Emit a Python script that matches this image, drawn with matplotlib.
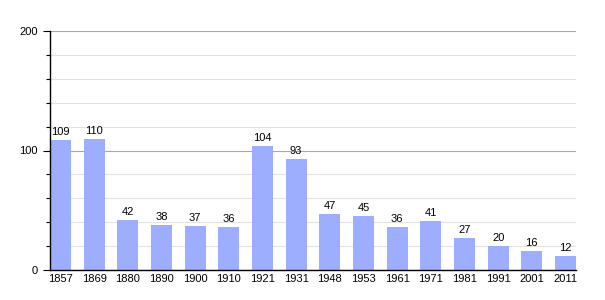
import numpy as np
import matplotlib.pyplot as plt
from matplotlib.ticker import MultipleLocator

years = ["1857", "1869", "1880", "1890", "1900", "1910", "1921", "1931",
         "1948", "1953", "1961", "1971", "1981", "1991", "2001", "2011"]
population = [109, 110, 42, 38, 37, 36, 104, 93, 47, 45, 36, 41, 27, 20, 16, 12]

plt.rcParams['font.family'] = ['Liberation Sans', 'DejaVu Sans']
plt.rcParams['font.size'] = 8

fig = plt.figure(figsize=(6.05, 3.0), dpi=100)
ax = fig.add_axes([50 / 605, 30 / 300, 526 / 605, 239 / 300])

x = np.arange(len(years))
w = 0.625
bars = ax.bar(x, population, width=w, color="#9dadff", zorder=3)

for b, v in zip(bars, population):
    ax.annotate(str(v), (b.get_x() + b.get_width() / 2, v), xytext=(0, 2),
                textcoords="offset points", ha="center", va="bottom",
                fontsize=8, zorder=4)

ax.set_xlim(-w / 2, len(years) - 1 + w / 2)
ax.set_ylim(0, 200)
ax.set_xticks(x)
ax.set_xticklabels(years)
ax.tick_params(axis="x", length=0, pad=3)

ax.yaxis.set_major_locator(MultipleLocator(100))
ax.yaxis.set_minor_locator(MultipleLocator(20))
ax.tick_params(axis="y", which="major", length=5, width=0.8, pad=4)
ax.tick_params(axis="y", which="minor", length=3, width=0.8)

ax.grid(axis="y", which="minor", color="#e2e2e2", linewidth=0.8, zorder=0)
ax.grid(axis="y", which="major", color="#a8a8a8", linewidth=0.8, zorder=1)

for s in ["top", "right"]:
    ax.spines[s].set_visible(False)
ax.spines["left"].set_linewidth(1.0)
ax.spines["bottom"].set_linewidth(1.0)
ax.spines["left"].set_zorder(5)
ax.spines["bottom"].set_zorder(5)

fig.savefig("out.png", dpi=100)
